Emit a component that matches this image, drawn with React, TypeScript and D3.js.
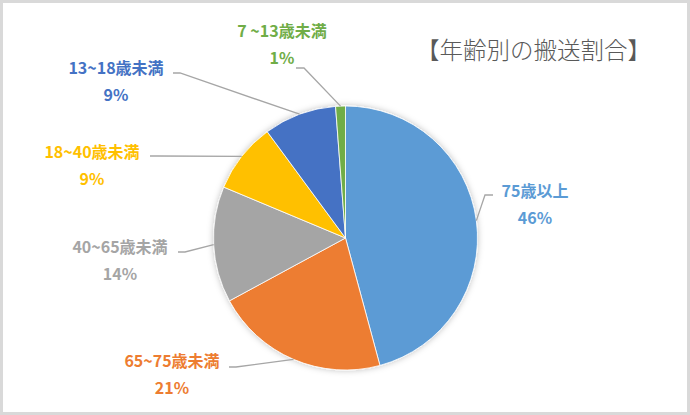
import React from "react";
import * as d3 from "d3";

const categories = ["75歳以上", "65~75歳未満", "40~65歳未満", "18~40歳未満", "13~18歳未満", "7 ~13歳未満"];
const shares = [45.8, 21.3, 14.2, 8.6, 8.9, 1.2];
const colors = ["#5B9BD5", "#ED7D31", "#A5A5A5", "#FFC000", "#4472C4", "#70AD47"];
const title = "【年齢別の搬送割合】";

// label layout: center x, baseline of first line, leader start (near label)
const labelLayout = [
  { x: 535, y: 197, lx: 493, ly: 195, hx: 485 },
  { x: 172, y: 367, lx: 229, ly: 367, hx: 236 },
  { x: 120, y: 253, lx: 178, ly: 252, hx: 185 },
  { x: 92, y: 158, lx: 150, ly: 156, hx: 157 },
  { x: 116, y: 74, lx: 173, ly: 73, hx: 180 },
  { x: 282, y: 37, lx: 296, ly: 68, hx: 304 },
];

const W = 690;
const H = 415;
const cx = 345.5;
const cy = 238;
const R = 132;

export default function App() {
  const data = categories.map((c, i) => ({ c, v: shares[i], color: colors[i] }));
  const pie = d3.pie<any>().value((d) => d.v).sort(null).startAngle(0).endAngle(2 * Math.PI);
  const arcs = pie(data);
  const arc = d3.arc<any>().innerRadius(0).outerRadius(R);
  const total = d3.sum(shares);
  const font = "'Noto Sans CJK JP', 'Noto Sans', sans-serif";

  return (
    <div style={{ position: "fixed", left: 0, top: 0, width: W, height: H }}>
      <svg width={W} height={H} viewBox={`0 0 ${W} ${H}`} style={{ display: "block" }}>
        <defs>
          <filter id="sh" x="-20%" y="-20%" width="140%" height="140%">
            <feDropShadow dx="0" dy="0" stdDeviation="3" floodColor="#000" floodOpacity="0.25" />
          </filter>
        </defs>
        <rect x={0} y={0} width={W} height={H} fill="#fff" />
        <rect x={1.5} y={1.5} width={W - 3} height={H - 3} fill="none" stroke="#D9D9D9" strokeWidth={3} />
        <text
          x={533.5}
          y={59}
          textAnchor="middle"
          fontFamily={font}
          fontSize={23.5}
          fill="#595959"
          fontWeight={300}
        >
          {title}
        </text>
        <g transform={`translate(${cx},${cy})`}>
          <g filter="url(#sh)">
            {arcs.map((a, i) => (
              <path key={i} d={arc(a) || ""} fill={a.data.color} stroke="#fff" strokeWidth={0.8} />
            ))}
          </g>
        </g>
        {arcs.map((a, i) => {
          const mid = (a.startAngle + a.endAngle) / 2;
          const px = cx + R * Math.sin(mid);
          const py = cy - R * Math.cos(mid);
          const L = labelLayout[i];
          const pct = Math.round((a.data.v / total) * 100);
          return (
            <g key={"l" + i}>
              <polyline
                points={`${L.lx},${L.ly} ${L.hx},${L.ly} ${px},${py}`}
                fill="none"
                stroke="#A6A6A6"
                strokeWidth={1.3}
              />
              <text
                x={L.x}
                y={L.y}
                textAnchor="middle"
                fontFamily={font}
                fontWeight={700}
                fontSize={16}
                fill={a.data.color}
              >
                {a.data.c}
              </text>
              <text
                x={L.x}
                y={L.y + 27}
                textAnchor="middle"
                fontFamily={font}
                fontWeight={700}
                fontSize={16}
                fill={a.data.color}
              >
                {pct + "%"}
              </text>
            </g>
          );
        })}
      </svg>
    </div>
  );
}
